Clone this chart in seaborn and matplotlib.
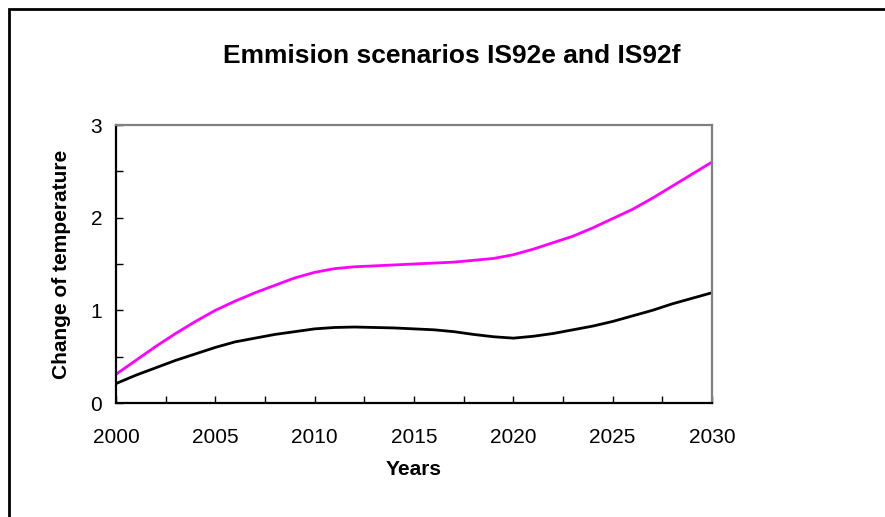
import matplotlib.pyplot as plt
import pandas as pd
import seaborn as sns
from matplotlib.patches import Rectangle

sns.set_style('white')
plt.rcParams['font.family'] = ['Liberation Sans', 'DejaVu Sans']
plt.rcParams['text.color'] = 'black'
plt.rcParams['axes.labelcolor'] = 'black'
plt.rcParams['xtick.color'] = 'black'
plt.rcParams['ytick.color'] = 'black'

# values, one per year
years = list(range(2000, 2031))
is92e = [0.31, 0.46, 0.61, 0.75, 0.88, 1.00, 1.10, 1.19, 1.27, 1.35, 1.41,
         1.45, 1.47, 1.48, 1.49, 1.50, 1.51, 1.52, 1.54, 1.56, 1.60,
         1.66, 1.73, 1.80, 1.89, 1.99, 2.09, 2.21, 2.34, 2.47, 2.60]
is92f = [0.21, 0.30, 0.38, 0.46, 0.53, 0.60, 0.66, 0.70, 0.74, 0.77, 0.80,
         0.815, 0.82, 0.815, 0.81, 0.80, 0.79, 0.77, 0.74, 0.715, 0.70,
         0.72, 0.75, 0.79, 0.83, 0.88, 0.94, 1.00, 1.07, 1.13, 1.19]

df = pd.DataFrame({'Years': years * 2,
                   'temp': is92e + is92f,
                   'scenario': ['IS92e'] * len(years) + ['IS92f'] * len(years)})

fig = plt.figure(figsize=(8.85, 5.17), dpi=100)
ax = fig.add_axes([0.1311, 0.2205, 0.6734, 0.5377])

sns.lineplot(data=df, x='Years', y='temp', hue='scenario',
             palette={'IS92e': '#ff00ff', 'IS92f': 'black'},
             linewidth=2, legend=False, ax=ax)

ax.set_xlim(2000, 2030)
ax.set_ylim(0, 3)
ax.set_xticks([2000, 2005, 2010, 2015, 2020, 2025, 2030])
ax.set_xticks([2002.5, 2007.5, 2012.5, 2017.5, 2022.5, 2027.5], minor=True)
ax.set_yticks([0, 1, 2, 3])
ax.set_yticks([0.5, 1.5, 2.5], minor=True)
ax.tick_params(which='both', direction='in', length=5, width=1, color='black',
               bottom=True, left=True, top=False, right=False)
ax.tick_params(axis='x', which='major', labelsize=15, pad=18)
ax.tick_params(axis='y', which='major', labelsize=15, pad=10)

for side in ['left', 'bottom']:
    ax.spines[side].set_color('black')
    ax.spines[side].set_linewidth(1.6)
for side in ['top', 'right']:
    ax.spines[side].set_color('#808080')
    ax.spines[side].set_linewidth(1.6)

ax.set_xlabel('Years', fontsize=15, fontweight='bold', labelpad=9)
ax.set_ylabel('Change of temperature', fontsize=15, fontweight='bold', labelpad=14)
fig.suptitle('Emmision scenarios IS92e and IS92f', fontsize=19, fontweight='bold',
             x=0.511, y=0.915)

# outer chart border
fig.patches.append(Rectangle((9 / 885, -0.2), 1.2, 1.2 - 10 / 517 + 0.001,
                             transform=fig.transFigure, fill=False,
                             edgecolor='black', linewidth=2))

fig.savefig('out.png', dpi=100)
